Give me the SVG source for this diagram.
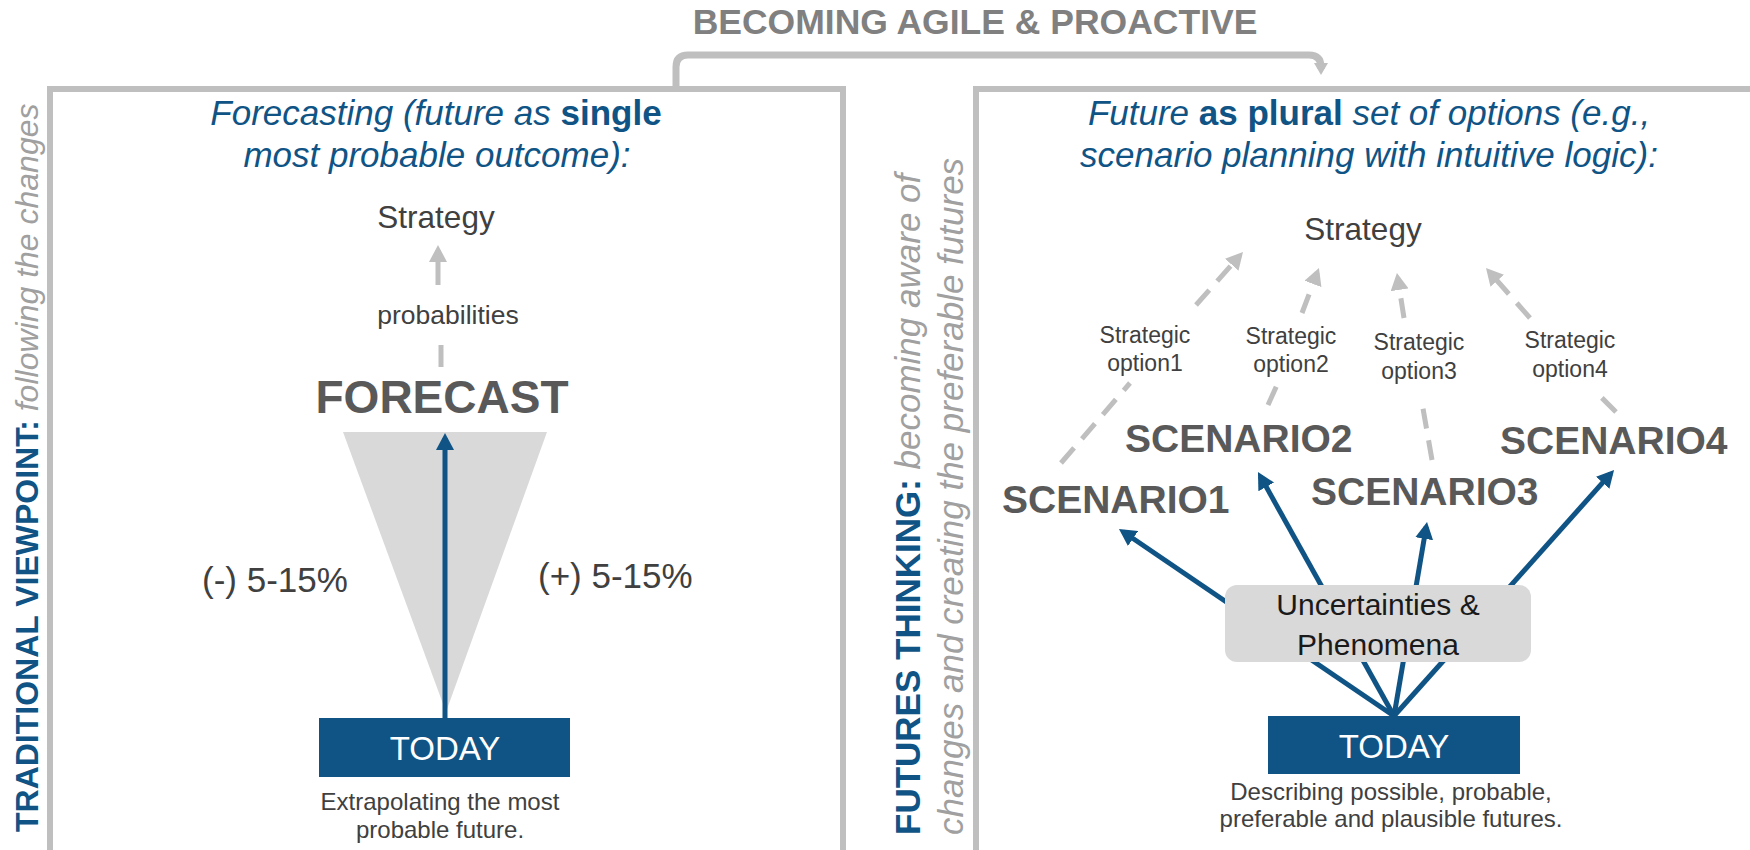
<svg xmlns="http://www.w3.org/2000/svg" width="1750" height="850" viewBox="0 0 1750 850">
<style>
text{font-family:"Liberation Sans",Arial,sans-serif;}
.box{fill:none;stroke:#bfbfbf;stroke-width:6;}
.head{font-size:35px;fill:#0f5485;}
.it{font-style:italic;}
.b{font-weight:bold;}
.dark{fill:#404040;}
.scn{font-size:39px;font-weight:bold;fill:#595959;}
.opt{font-size:23px;fill:#404040;text-anchor:middle;}
.cap{font-size:24px;fill:#404040;text-anchor:middle;}
.today{fill:#0f5485;}
.todayt{font-size:33px;fill:#ffffff;text-anchor:middle;}
.blue{stroke:#0f5485;stroke-width:5;fill:none;}
.grey{stroke:#bfbfbf;stroke-width:5;fill:none;}
.dash{stroke-dasharray:20 12;}
.vblue{fill:#0f5485;font-weight:bold;}
.vgrey{fill:#a0a0a0;font-style:italic;}
</style>
<defs>
<marker id="ab" markerUnits="userSpaceOnUse" markerWidth="18" markerHeight="18" refX="12" refY="9" orient="auto"><path d="M0,0 L17,9 L0,18 z" fill="#0f5485"/></marker>
<marker id="ag" markerUnits="userSpaceOnUse" markerWidth="18" markerHeight="18" refX="12" refY="9" orient="auto"><path d="M0,0 L17,9 L0,18 z" fill="#bfbfbf"/></marker>
<marker id="agb" markerUnits="userSpaceOnUse" markerWidth="16" markerHeight="14" refX="6" refY="7" orient="auto"><path d="M0,0 L12,7 L0,14 z" fill="#bfbfbf"/></marker>
</defs>
<rect width="1750" height="850" fill="#ffffff"/>

<g id="title"><text x="975" y="34" text-anchor="middle" class="b" font-size="35.5" fill="#808080">BECOMING AGILE &amp; PROACTIVE</text></g>

<g id="left-panel"><rect class="box" x="50" y="89" width="793" height="800"/></g>
<g id="right-panel"><rect class="box" x="976" y="89" width="800" height="800"/></g>

<g id="left-side-label"><text transform="translate(38,832) rotate(-90)" font-size="32"><tspan class="vblue">TRADITIONAL VIEWPOINT:</tspan> <tspan class="vgrey">following the changes</tspan></text></g>
<g id="right-side-label">
<text transform="translate(920,835) rotate(-90)" font-size="35"><tspan class="vblue">FUTURES THINKING:</tspan> <tspan class="vgrey">becoming aware of</tspan></text>
<text transform="translate(963,835) rotate(-90)" font-size="35" class="vgrey">changes and creating the preferable futures</text>
</g>

<g id="funnel"><polygon points="343,432 547,432 446,712" fill="#d9d9d9"/></g>

<g id="connectors">
<path d="M676,89 V67 Q676,55 688,55 H1309 Q1321,55 1321,67 V69" fill="none" stroke="#bfbfbf" stroke-width="7" marker-end="url(#agb)"/>
<line class="grey" x1="441" y1="367" x2="441" y2="345"/>
<line class="grey" x1="438" y1="285" x2="438" y2="250" marker-end="url(#ag)"/>
<line class="blue" x1="445" y1="718" x2="445" y2="438" marker-end="url(#ab)"/>
<line class="blue" x1="1394" y1="716" x2="1123.1" y2="531.8" marker-end="url(#ab)"/>
<line class="blue" x1="1394" y1="716" x2="1260.4" y2="476.4" marker-end="url(#ab)"/>
<line class="blue" x1="1394" y1="716" x2="1426.2" y2="526.9" marker-end="url(#ab)"/>
<line class="blue" x1="1394" y1="716" x2="1610.7" y2="473.7" marker-end="url(#ab)"/>
<line class="grey dash" x1="1061" y1="463" x2="1130" y2="383"/>
<line class="grey dash" x1="1196" y1="305" x2="1239.7" y2="255.7" marker-end="url(#ag)"/>
<line class="grey dash" x1="1268" y1="405" x2="1277" y2="385"/>
<line class="grey dash" x1="1302" y1="313" x2="1317.2" y2="272.7" marker-end="url(#ag)"/>
<line class="grey dash" x1="1432" y1="460" x2="1421" y2="397"/>
<line class="grey dash" x1="1404" y1="318" x2="1397.7" y2="278" marker-end="url(#ag)"/>
<line class="grey dash" x1="1616" y1="412" x2="1599" y2="395"/>
<line class="grey dash" x1="1530" y1="318" x2="1489.3" y2="271.8" marker-end="url(#ag)"/>
</g>

<g id="left-heading"><text class="head" text-anchor="middle"><tspan x="436" y="125"><tspan class="it">Forecasting (future as </tspan><tspan class="b">single</tspan></tspan><tspan class="it" x="437" y="167">most probable outcome):</tspan></text></g>
<g id="left-strategy"><text x="436" y="228" text-anchor="middle" font-size="31.5" class="dark">Strategy</text></g>
<g id="probabilities"><text x="448" y="324" text-anchor="middle" font-size="26.5" class="dark">probabilities</text></g>
<g id="forecast"><text x="442" y="413" text-anchor="middle" font-size="46" font-weight="bold" fill="#595959">FORECAST</text></g>
<g id="minus"><text x="202" y="592" font-size="35" class="dark">(-) 5-15%</text></g>
<g id="plus"><text x="538" y="588" font-size="35" class="dark">(+) 5-15%</text></g>
<g id="left-today"><rect class="today" x="319" y="718" width="251" height="59"/><text class="todayt" x="445" y="760">TODAY</text></g>
<g id="left-caption"><text class="cap"><tspan x="440" y="810">Extrapolating the most</tspan><tspan x="440" y="838">probable future.</tspan></text></g>

<g id="right-heading"><text class="head" text-anchor="middle"><tspan x="1369" y="125"><tspan class="it">Future </tspan><tspan class="b">as plural</tspan><tspan class="it"> set of options (e.g.,</tspan></tspan><tspan class="it" x="1369" y="167">scenario planning with intuitive logic):</tspan></text></g>
<g id="right-strategy"><text x="1363" y="240" text-anchor="middle" font-size="31.5" class="dark">Strategy</text></g>
<g id="option1"><text class="opt"><tspan x="1145" y="343">Strategic</tspan><tspan x="1145" y="371">option1</tspan></text></g>
<g id="option2"><text class="opt"><tspan x="1291" y="344">Strategic</tspan><tspan x="1291" y="372">option2</tspan></text></g>
<g id="option3"><text class="opt"><tspan x="1419" y="350">Strategic</tspan><tspan x="1419" y="379">option3</tspan></text></g>
<g id="option4"><text class="opt"><tspan x="1570" y="348">Strategic</tspan><tspan x="1570" y="377">option4</tspan></text></g>
<g id="scenario1"><text class="scn" x="1002" y="513">SCENARIO1</text></g>
<g id="scenario2"><text class="scn" x="1125" y="452">SCENARIO2</text></g>
<g id="scenario3"><text class="scn" x="1311" y="505">SCENARIO3</text></g>
<g id="scenario4"><text class="scn" x="1500" y="454">SCENARIO4</text></g>
<g id="uncertainties"><rect x="1225" y="585" width="306" height="77" rx="12" fill="#d9d9d9"/><text font-size="30" fill="#1a1a1a" text-anchor="middle"><tspan x="1378" y="615">Uncertainties &amp;</tspan><tspan x="1378" y="655">Phenomena</tspan></text></g>
<g id="right-today"><rect class="today" x="1268" y="716" width="252" height="58"/><text class="todayt" x="1394" y="758">TODAY</text></g>
<g id="right-caption"><text class="cap"><tspan x="1391" y="800">Describing possible, probable,</tspan><tspan x="1391" y="827">preferable and plausible futures.</tspan></text></g>
</svg>
